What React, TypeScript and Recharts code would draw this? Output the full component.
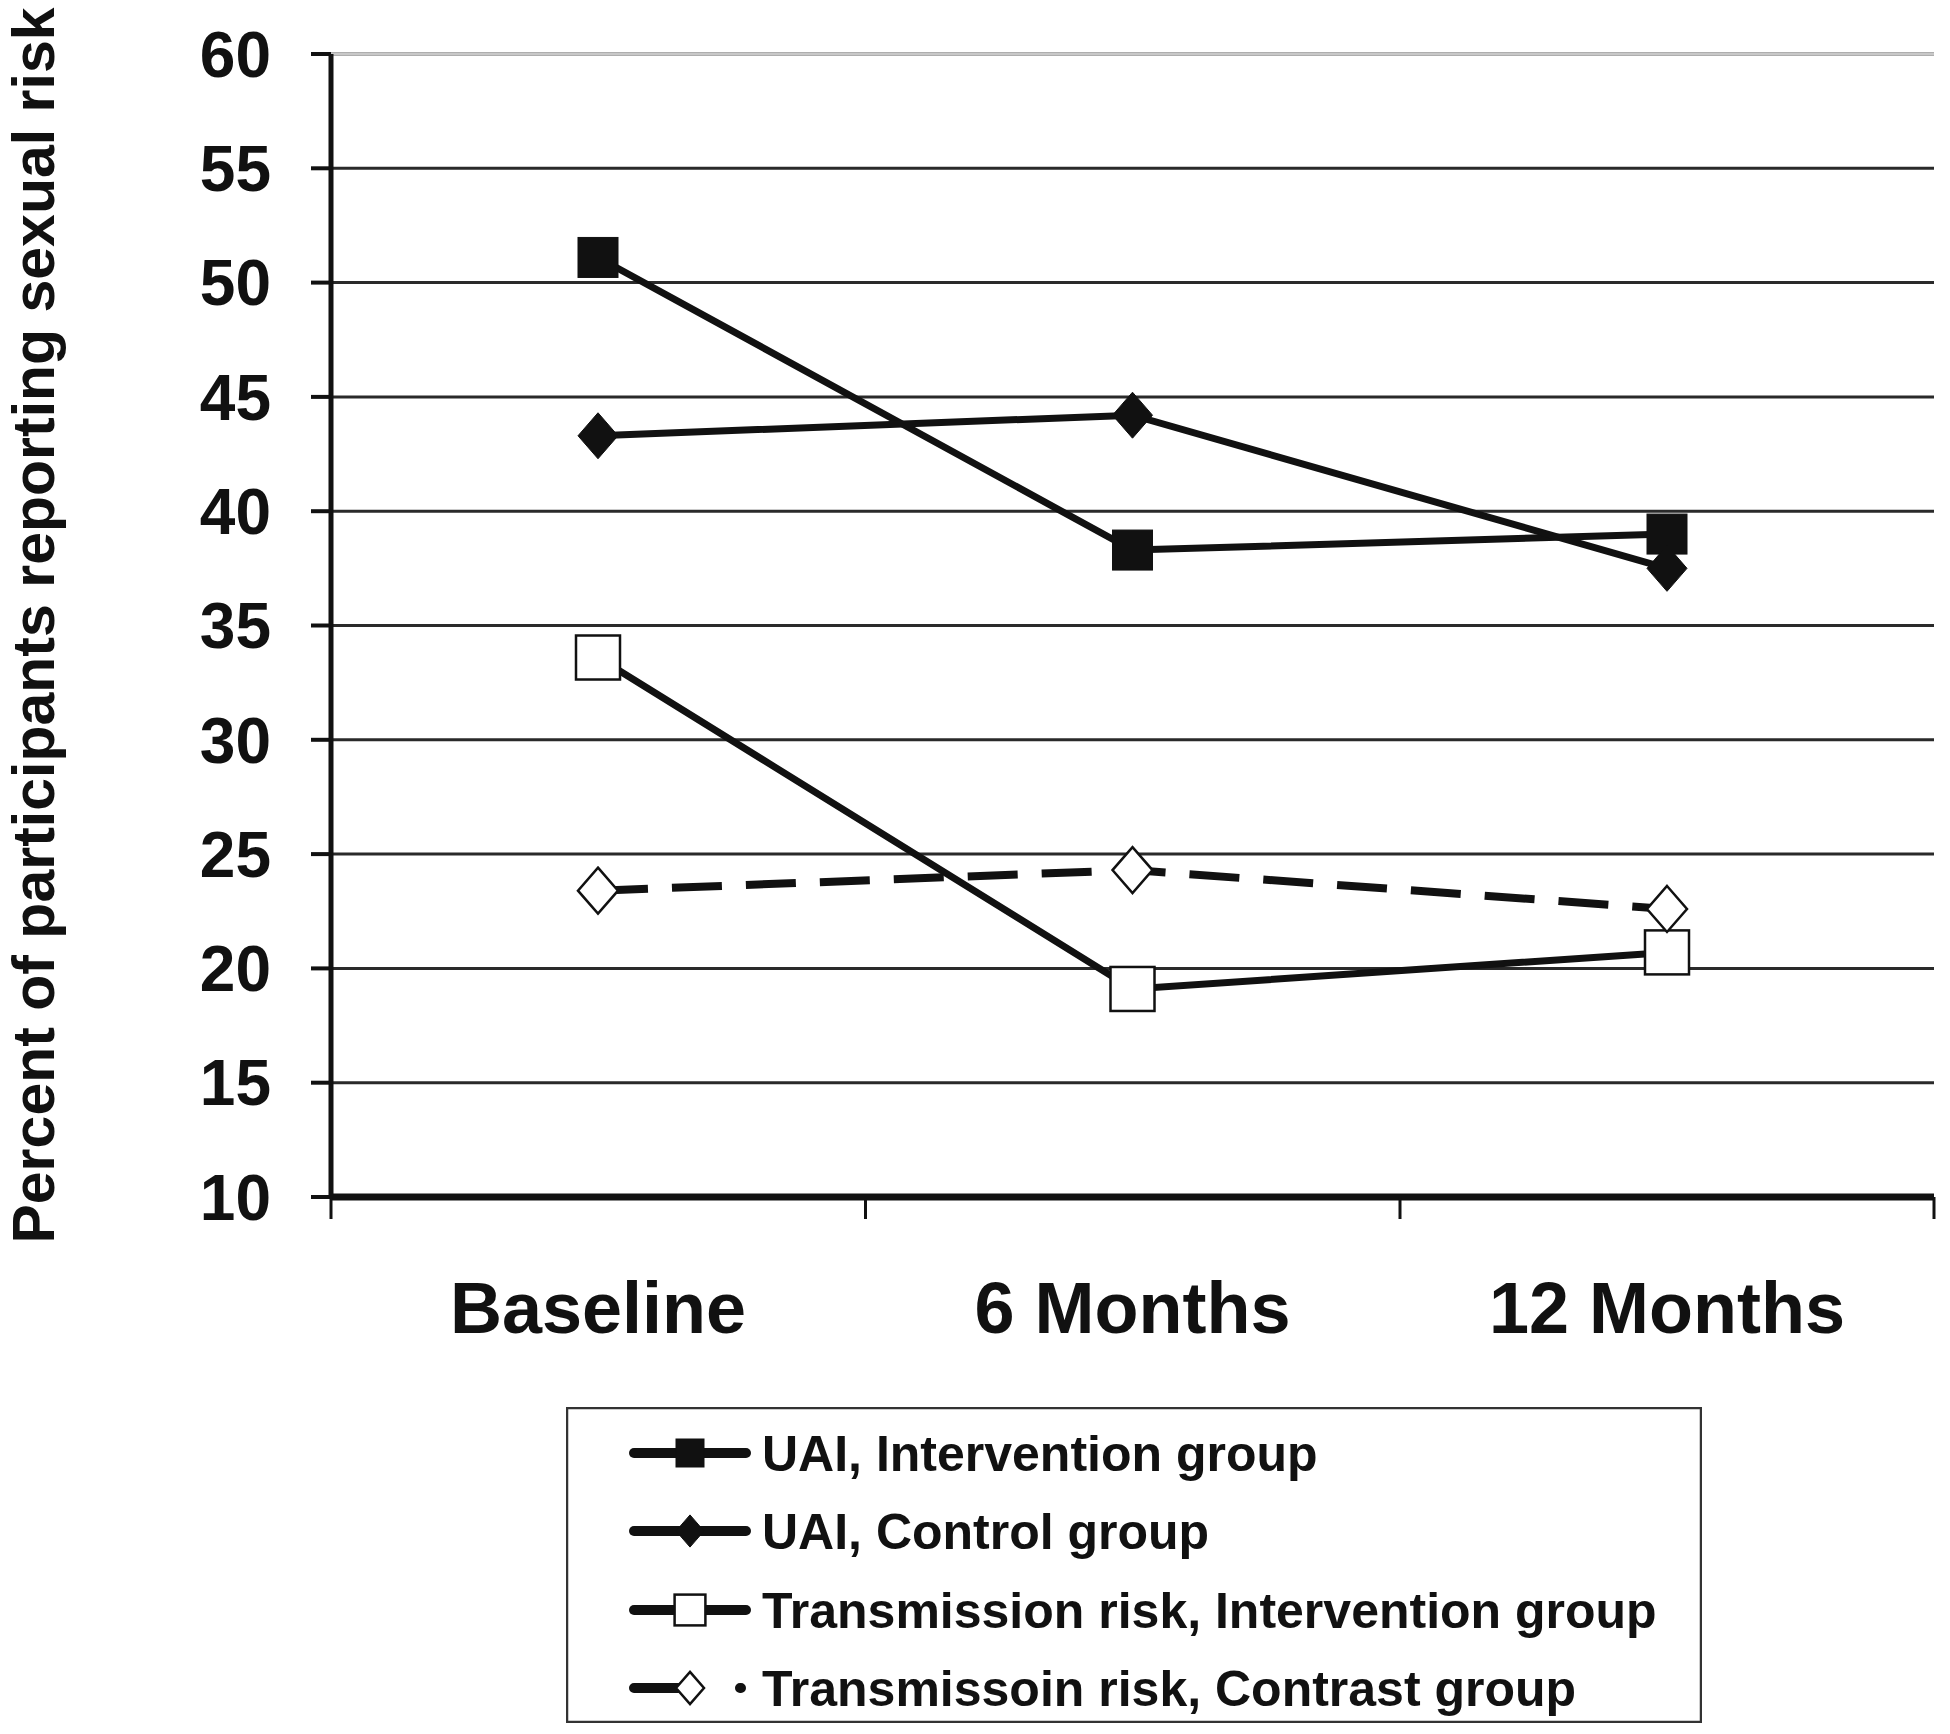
import { CartesianGrid, Label, Line, LineChart, ReferenceLine, XAxis, YAxis } from "recharts";

const periods = ["Baseline", "6 Months", "12 Months"];
const uaiIntervention = [51.1, 38.3, 39.0];
const uaiControl = [43.3, 44.2, 37.5];
const transmissionIntervention = [33.6, 19.1, 20.7];
const transmissionContrast = [23.4, 24.3, 22.6];
const yTicks = [10, 15, 20, 25, 30, 35, 40, 45, 50, 55, 60];

const FONT = '"Liberation Sans", Arial, Helvetica, sans-serif';
const INK = "#111";
// half of one category band (plot width 1603 / 3 / 2)
const HALF_BAND = 267;

type MarkerKind = "square" | "diamond" | "openSquare" | "openDiamond";

const series: { key: string; name: string; marker: MarkerKind; dashed: boolean }[] = [
  { key: "uaiIntervention", name: "UAI, Intervention group", marker: "square", dashed: false },
  { key: "uaiControl", name: "UAI, Control group", marker: "diamond", dashed: false },
  { key: "transmissionIntervention", name: "Transmission risk, Intervention group", marker: "openSquare", dashed: false },
  { key: "transmissionContrast", name: "Transmissoin risk, Contrast group", marker: "openDiamond", dashed: true },
];

const data = periods.map((period, i) => ({
  period,
  uaiIntervention: uaiIntervention[i],
  uaiControl: uaiControl[i],
  transmissionIntervention: transmissionIntervention[i],
  transmissionContrast: transmissionContrast[i],
}));

function Marker({ kind, cx, cy, size }: { kind: MarkerKind; cx: number; cy: number; size: number }) {
  const h = size / 2;
  const open = kind === "openSquare" || kind === "openDiamond";
  const fill = open ? "#fff" : INK;
  if (kind === "square" || kind === "openSquare") {
    const s = open ? size * 1.1 : size;
    return (
      <rect x={cx - s / 2} y={cy - s / 2} width={s} height={s} fill={fill} stroke={INK} strokeWidth={open ? 2.5 : 1} />
    );
  }
  const hh = h * 1.15;
  return (
    <polygon
      points={`${cx},${cy - hh} ${cx + h},${cy} ${cx},${cy + hh} ${cx - h},${cy}`}
      fill={fill}
      stroke={INK}
      strokeWidth={open ? 2.5 : 1}
    />
  );
}

const makeDot = (kind: MarkerKind) => (props: any) => (
  <g key={`${kind}-${props.index}`}>
    <Marker kind={kind} cx={props.cx} cy={props.cy} size={40} />
  </g>
);

// category label plus the band-edge tick marks below the axis
const renderCategoryTick = (props: any) => {
  const { x, y, index, payload } = props;
  const last = index === periods.length - 1;
  return (
    <g>
      <line x1={x - HALF_BAND} x2={x - HALF_BAND} y1={y} y2={y + 22} stroke={INK} strokeWidth={3} />
      {last && <line x1={x + HALF_BAND} x2={x + HALF_BAND} y1={y} y2={y + 22} stroke={INK} strokeWidth={3} />}
      <text
        x={x}
        y={y + 136}
        textAnchor="middle"
        fontSize={72}
        fontWeight={700}
        fontFamily={FONT}
        fill={INK}
      >
        {payload.value}
      </text>
    </g>
  );
};

const renderYTitle = (props: any) => {
  const vb = props.viewBox;
  const cy = vb.y + vb.height / 2;
  return (
    <text
      transform={`translate(54, ${cy}) rotate(-90)`}
      textAnchor="middle"
      fontSize={59}
      fontWeight={700}
      fontFamily={FONT}
      fill={INK}
    >
      Percent of participants reporting sexual risk
    </text>
  );
};

function ChartLegend() {
  const baselines = [64, 142, 221, 299];
  return (
    <svg
      width={1136}
      height={316}
      style={{ position: "absolute", left: 566, top: 1407 }}
    >
      <rect x={1} y={1} width={1134} height={314} fill="#fff" stroke="#333" strokeWidth={2.5} />
      {series.map((s, i) => {
        const y = baselines[i] - 18;
        return (
          <g key={s.key}>
            <line
              x1={68}
              x2={180}
              y1={y}
              y2={y}
              stroke={INK}
              strokeWidth={10}
              strokeLinecap="round"
              strokeDasharray={s.dashed ? "46 60 1" : undefined}
            />
            <Marker kind={s.marker} cx={124} cy={y} size={28} />
            <text
              x={196}
              y={baselines[i]}
              fontSize={50}
              fontWeight={700}
              fontFamily={FONT}
              fill={INK}
            >
              {s.name}
            </text>
          </g>
        );
      })}
    </svg>
  );
}

export default function App() {
  return (
    <div style={{ position: "absolute", left: 0, top: 0, width: 1950, height: 1734, background: "#fff" }}>
      <LineChart
        width={1950}
        height={1734}
        data={data}
        margin={{ top: 54, right: 16, bottom: 337, left: 231 }}
      >
        <CartesianGrid vertical={false} stroke="#2a2a2a" strokeWidth={3} />
        <ReferenceLine y={60} stroke="#c8c8c8" strokeWidth={3} />
        <XAxis
          dataKey="period"
          height={200}
          padding={{ left: HALF_BAND, right: HALF_BAND }}
          axisLine={{ stroke: INK, strokeWidth: 7 }}
          tickLine={false}
          tickSize={0}
          tickMargin={0}
          interval={0}
          tick={renderCategoryTick}
        />
        <YAxis
          domain={[10, 60]}
          ticks={yTicks}
          width={100}
          interval={0}
          axisLine={{ stroke: INK, strokeWidth: 5 }}
          tickLine={{ stroke: INK, strokeWidth: 4 }}
          tickSize={20}
          tickMargin={40}
          tick={{ fill: INK, fontSize: 64, fontWeight: 700, fontFamily: FONT }}
        >
          <Label content={renderYTitle} />
        </YAxis>
        {series.map((s) => (
          <Line
            key={s.key}
            dataKey={s.key}
            name={s.name}
            type="linear"
            stroke={INK}
            strokeWidth={s.dashed ? 8 : 7}
            strokeDasharray={s.dashed ? "50 24" : undefined}
            dot={makeDot(s.marker)}
            activeDot={false}
            isAnimationActive={false}
          />
        ))}
      </LineChart>
      <ChartLegend />
    </div>
  );
}
